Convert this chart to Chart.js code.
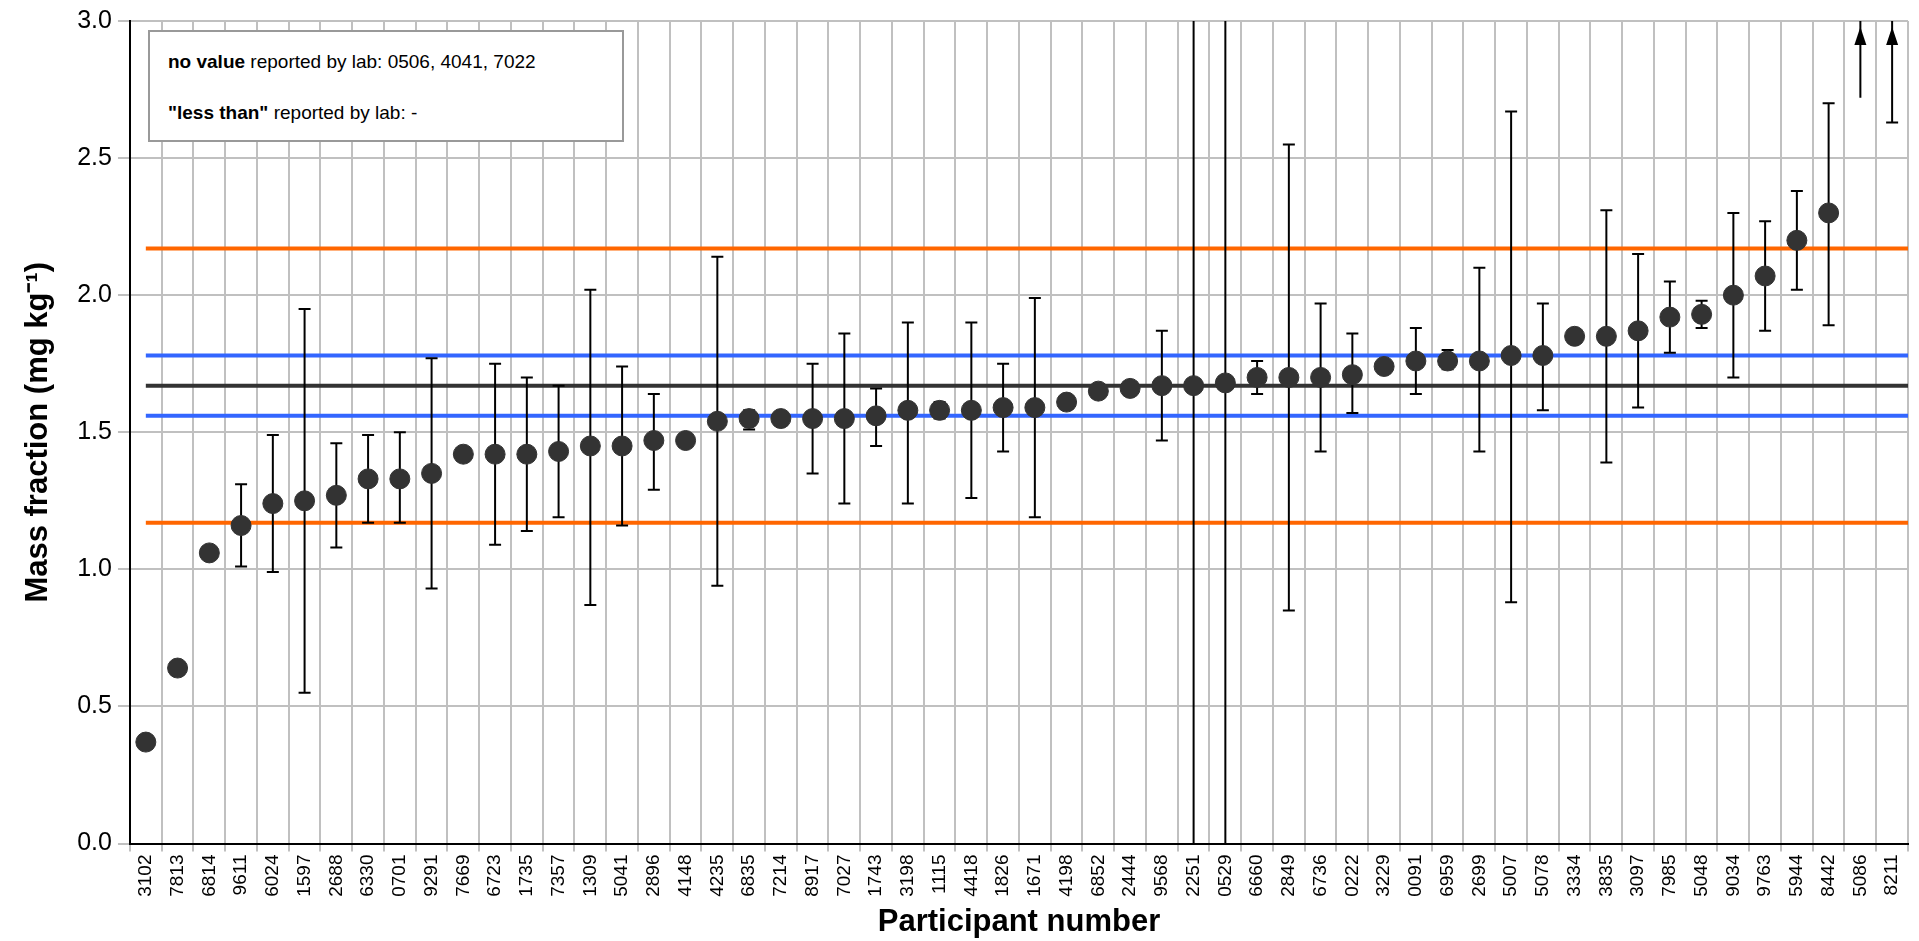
<!DOCTYPE html>
<html><head><meta charset="utf-8">
<script src="https://cdn.jsdelivr.net/npm/chart.js@4"></script>
<style>html,body{margin:0;background:#fff}#wrap{width:1919px;height:941px;position:relative}
#note{position:absolute;left:148px;top:30px;width:476px;height:112px;border:2px solid #999;background:#fff;font-family:Arial,"Liberation Sans",sans-serif;font-size:19px;box-sizing:border-box;padding:20px 0 0 18px;line-height:19px}
#note p{margin:0 0 32px 0}</style></head>
<body><div id="wrap"><canvas id="c" width="1919" height="941"></canvas>
<div id="note"><p><b>no value</b> reported by lab: 0506, 4041, 7022</p><p><b>"less than"</b> reported by lab: -</p></div></div>
<script>
const labs = ["3102","7813","6814","9611","6024","1597","2688","6330","0701","9291","7669","6723","1735","7357","1309","5041","2896","4148","4235","6835","7214","8917","7027","1743","3198","1115","4418","1826","1671","4198","6852","2444","9568","2251","0529","6660","2849","6736","0222","3229","0091","6959","2699","5007","5078","3334","3835","3097","7985","5048","9034","9763","5944","8442","5086","8211"];
const values = [0.37,0.64,1.06,1.16,1.24,1.25,1.27,1.33,1.33,1.35,1.42,1.42,1.42,1.43,1.45,1.45,1.47,1.47,1.54,1.55,1.55,1.55,1.55,1.56,1.58,1.58,1.58,1.59,1.59,1.61,1.65,1.66,1.67,1.67,1.68,1.70,1.70,1.70,1.71,1.74,1.76,1.76,1.76,1.78,1.78,1.85,1.85,1.87,1.92,1.93,2.00,2.07,2.20,2.30,null,null];
const errLow = [null,0.63,null,1.01,0.99,0.55,1.08,1.17,1.17,0.93,1.40,1.09,1.14,1.19,0.87,1.16,1.29,1.46,0.94,1.51,null,1.35,1.24,1.45,1.24,1.55,1.26,1.43,1.19,null,null,null,1.47,-5,-5,1.64,0.85,1.43,1.57,null,1.64,1.73,1.43,0.88,1.58,null,1.39,1.59,1.79,1.88,1.70,1.87,2.02,1.89,2.72,2.63];
const errHigh = [null,0.65,null,1.31,1.49,1.95,1.46,1.49,1.50,1.77,1.44,1.75,1.70,1.67,2.02,1.74,1.64,1.48,2.14,1.58,null,1.75,1.86,1.66,1.90,1.61,1.90,1.75,1.99,null,null,null,1.87,5,5,1.76,2.55,1.97,1.86,null,1.88,1.80,2.10,2.67,1.97,null,2.31,2.15,2.05,1.98,2.30,2.27,2.38,2.70,5,5];
const lowCap = [1,1,1,1,1,1,1,1,1,1,1,1,1,1,1,1,1,1,1,1,1,1,1,1,1,1,1,1,1,1,1,1,1,0,0,1,1,1,1,1,1,1,1,1,1,1,1,1,1,1,1,1,1,1,0,1];
const arrows = [54,55];
const refMean = 1.67, refU = [1.56,1.78], refLimits = [1.17,2.17];

const extras = {
  id: "extras",
  beforeDatasetsDraw(ch) {
    const {ctx, chartArea: a, scales: {x, y}} = ch;
    const x0 = x.getPixelForValue(0);
    const hl = (v, c) => { ctx.strokeStyle = c; ctx.lineWidth = 4; ctx.beginPath(); ctx.moveTo(x0, y.getPixelForValue(v)); ctx.lineTo(a.right, y.getPixelForValue(v)); ctx.stroke(); };
    ctx.save();
    refLimits.forEach(v => hl(v, "#ff6600"));
    refU.forEach(v => hl(v, "#3366ff"));
    hl(refMean, "#333333");
    ctx.beginPath(); ctx.rect(a.left, a.top, a.width, a.height); ctx.clip();
    ctx.strokeStyle = "#000"; ctx.lineWidth = 2;
    labs.forEach((l, i) => {
      if (errLow[i] == null) return;
      const px = x.getPixelForValue(i), lo = y.getPixelForValue(errLow[i]), hi = y.getPixelForValue(errHigh[i]);
      ctx.beginPath(); ctx.moveTo(px, lo); ctx.lineTo(px, hi);
      if (lowCap[i]) { ctx.moveTo(px - 6, lo); ctx.lineTo(px + 6, lo); }
      if (errHigh[i] < 3) { ctx.moveTo(px - 6, hi); ctx.lineTo(px + 6, hi); }
      ctx.stroke();
    });
    ctx.fillStyle = "#000";
    arrows.forEach(i => {
      const px = x.getPixelForValue(i), t = y.getPixelForValue(3.0) + 6;
      ctx.beginPath(); ctx.moveTo(px, t); ctx.lineTo(px - 6, t + 18); ctx.lineTo(px + 6, t + 18); ctx.closePath(); ctx.fill();
    });
    ctx.restore();
  }
};

new Chart(document.getElementById("c"), {
  type: "line",
  data: { labels: labs, datasets: [{ data: values, showLine: false, pointRadius: 10, pointHoverRadius: 10, pointBackgroundColor: "#333", pointBorderColor: "#333" }] },
  options: {
    responsive: false, animation: false,
    layout: { padding: { top: 16, right: 4, left: 16 } },
    plugins: { legend: { display: false }, tooltip: { enabled: false } },
    scales: {
      x: { offset: true, grid: { offset: true, color: "#c0c0c0", lineWidth: 2, tickLength: 8 }, border: { color: "#000", width: 2 },
           ticks: { maxRotation: 90, minRotation: 90, autoSkip: false, color: "#000", font: { family: "Arial, Liberation Sans", size: 19 } },
           title: { display: true, text: "Participant number", color: "#000", font: { family: "Arial, Liberation Sans", size: 31, weight: "bold" }, padding: { top: 4, bottom: 0 } } },
      y: { min: 0, max: 3, grid: { color: "#c0c0c0", lineWidth: 2, tickLength: 12 }, border: { color: "#000", width: 2 },
           ticks: { stepSize: 0.5, color: "#000", padding: 6, callback: v => v.toFixed(1), font: { family: "Arial, Liberation Sans", size: 25 } },
           title: { display: true, text: "Mass fraction (mg kg\u207B\u00B9)", color: "#000", padding: { bottom: 14 }, font: { family: "Arial, Liberation Sans", size: 31, weight: "bold" } } }
    }
  },
  plugins: [extras]
});
</script></body></html>
